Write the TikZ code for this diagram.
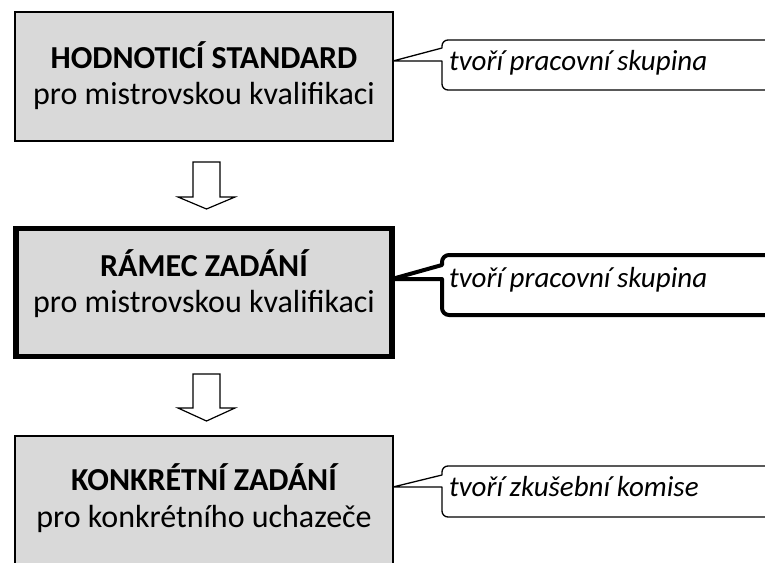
\documentclass[tikz,border=0pt]{standalone}
\usepackage{fontspec}
\setmainfont{Carlito}
\usetikzlibrary{calc}
\definecolor{boxgray}{HTML}{D9D9D9}
\tikzset{
  stagebox/.style={draw=black, fill=boxgray, line width=1.8pt},
  keybox/.style={draw=black, fill=boxgray, line width=5.5pt},
  boxtitle/.style={anchor=base, inner sep=0pt, font=\fontsize{32}{38}\selectfont\bfseries},
  boxsub/.style={anchor=base, inner sep=0pt, font=\fontsize{32}{38}\selectfont},
  notetext/.style={anchor=base west, inner sep=0pt, font=\fontsize{29}{34}\selectfont\itshape},
  callout/.style={draw=black, line width=1.3pt, line join=round},
  blockarrow/.style={draw=black, fill=white, line width=1.2pt, line join=miter}
}
\begin{document}
\begin{tikzpicture}[x=1pt,y=-1pt]
\useasboundingbox (0,0) rectangle (765,562);
\begin{scope}
\clip (0,0) rectangle (765,562);
% boxes
\draw[stagebox] (15,12) rectangle (393,141);
\coordinate (b1e) at (393,61);
\draw[keybox] (16,228.5) rectangle (392,356.5);
\coordinate (b2e) at (392,279);
\draw[stagebox] (15,436) rectangle (393,600);
\coordinate (b3e) at (393,487);

\node[boxtitle] (t1) at (204,68) {HODNOTICÍ STANDARD};
\node[boxsub] (s1) at (204,104) {pro mistrovskou kvalifikaci};
\node[boxtitle] (t2) at (204,276) {RÁMEC ZADÁNÍ};
\node[boxsub] (s2) at (204,312) {pro mistrovskou kvalifikaci};
\node[boxtitle] (t3) at (204,490) {KONKRÉTNÍ ZADÁNÍ};
\node[boxsub] (s3) at (204,527) {pro konkrétního uchazeče};

% callouts
\draw[callout] (800,40) [rounded corners=6pt] -- (442,40) [sharp corners] -- (442,48) -- (b1e) -- (442,61) [rounded corners=6pt] -- (442,90) -- (800,90);
\node[notetext] (n1) at (449,70) {tvoří pracovní skupina};

\draw[callout, line width=4pt] (800,255) [rounded corners=7pt] -- (442,255) [sharp corners] -- (442,265) -- (b2e) -- (442,279) [rounded corners=7pt] -- (442,315) -- (800,315);
\node[notetext] (n2) at (449,287) {tvoří pracovní skupina};

\draw[callout] (800,466) [rounded corners=6pt] -- (442,466) [sharp corners] -- (442,475) -- (b3e) -- (442,487) [rounded corners=6pt] -- (442,517) -- (800,517);
\node[notetext] (n3) at (449,496) {tvoří zkušební komise};

% block arrows
\draw[blockarrow] (193,162) -- (220,162) -- (220,197) -- (235,197) -- (206.5,209) -- (178,197) -- (193,197) -- cycle;
\draw[blockarrow] (193,374) -- (220,374) -- (220,408) -- (235,408) -- (206.5,421) -- (178,408) -- (193,408) -- cycle;
\end{scope}
\end{tikzpicture}
\end{document}
